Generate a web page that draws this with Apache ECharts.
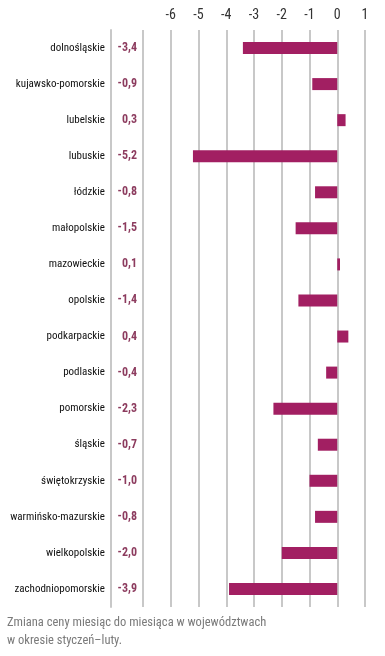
<!DOCTYPE html>
<html><head><meta charset="utf-8">
<script src="https://cdn.jsdelivr.net/npm/echarts@6/dist/echarts.min.js"></script>
<style>html,body{margin:0;padding:0;background:#fff}#c{width:385px;height:656px}</style>
</head><body><div id="c"></div>
<script>
const categories = ['dolnośląskie','kujawsko-pomorskie','lubelskie','lubuskie','łódzkie','małopolskie','mazowieckie','opolskie','podkarpackie','podlaskie','pomorskie','śląskie','świętokrzyskie','warmińsko-mazurskie','wielkopolskie','zachodniopomorskie'];
const values = [-3.4,-0.9,0.3,-5.2,-0.8,-1.5,0.1,-1.4,0.4,-0.4,-2.3,-0.7,-1.0,-0.8,-2.0,-3.9];
const tickLabels = ['', '-6','-5','-4','-3','-2','-1','0','1'];
const caption = 'Zmiana ceny miesiąc do miesiąca w województwach\nw okresie styczeń–luty.';
const FONT = '"Roboto Condensed","Liberation Sans Narrow",sans-serif';
const fmt = v => v.toFixed(1).replace('.', ',');
const chart = echarts.init(document.getElementById('c'), null, {renderer:'canvas'});
chart.setOption({
  animation:false,
  title:{text:caption,left:7,top:614,padding:0,textStyle:{fontFamily:FONT,fontSize:12.5,fontWeight:'normal',color:'#7a7a7a',lineHeight:18}},
  grid:{left:143,right:20,top:30,bottom:49,containLabel:false,outerBoundsMode:'none'},
  xAxis:{type:'value',position:'top',min:-7,max:1,interval:1,
    axisLine:{show:false},axisTick:{show:false},
    axisLabel:{margin:8,fontFamily:FONT,fontSize:14,color:'#333',formatter:v=>tickLabels[Math.round(v)+7]},
    splitLine:{show:true,lineStyle:{color:'#c8c8c8',width:2}}},
  yAxis:[
    {type:'category',data:categories,inverse:true,
      axisLine:{show:false},axisTick:{show:false},splitLine:{show:false},
      axisLabel:{margin:38,fontFamily:FONT,fontSize:11,color:'#111'}},
    {type:'category',data:values.map(fmt),inverse:true,position:'left',offset:32,
      axisLine:{show:true,lineStyle:{color:'#c8c8c8',width:2}},axisTick:{show:false},splitLine:{show:false},
      axisLabel:{inside:true,align:'right',margin:26,fontFamily:FONT,fontSize:12,fontWeight:'bold',color:'#8c3b5e'}}
  ],
  series:[{type:'bar',data:values,barWidth:12,itemStyle:{color:'#a21f62'},yAxisIndex:0}]
});
</script></body></html>
